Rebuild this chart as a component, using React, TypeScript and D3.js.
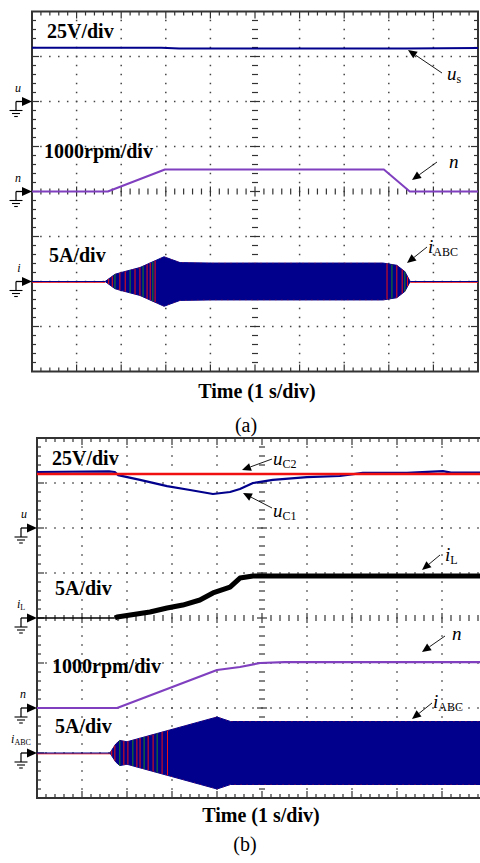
import React, { useRef, useEffect } from "react";
import * as d3 from "d3";

// panel (a): time in s, values in channel units
const aUsTime = [0, 2.9, 3.3, 8.4, 10];
const aUsVolt = [29.8, 29.8, 29.4, 29.4, 29.7];
const aSpeedTime = [0, 1.7, 2.98, 7.89, 8.47, 10];
const aSpeedRpm = [0, 0, 490, 490, 0, 0];
const aCurTime = [1.64, 1.86, 2.0, 2.42, 2.96, 3.32, 4.0, 7.87, 8.18, 8.36, 8.48];
const aCurAmp = [0, 0.8, 1.0, 1.55, 2.75, 2.1, 2.05, 2.05, 1.8, 1.1, 0];
const aCurStripes = [1.72, 1.8, 1.86, 1.97, 2.09, 2.2, 2.31, 2.42, 2.49, 2.58, 2.65, 2.71, 2.76, 7.96, 8.07, 8.18, 8.3, 8.36, 8.42];

// panel (b)
const bUc2Time = [0, 10];
const bUc2Volt = [30, 30];
const bUc1Time = [0, 1.6, 1.73, 1.8, 2.29, 2.89, 3.4, 3.91, 4.29, 4.51, 4.8, 5.24, 6.0, 6.73, 7.24, 8.22, 9.02, 9.2, 10];
const bUc1Volt = [31.1, 31.5, 31.1, 29.4, 26.7, 23.3, 21.1, 18.9, 20, 21.7, 25, 26.7, 28.3, 28.9, 30.6, 30.6, 31.6, 30.8, 30.8];
const bIlTime = [0, 1.73, 1.78, 2.51, 2.89, 3.24, 3.62, 3.91, 4.29, 4.51, 4.8, 10];
const bIlAmp = [0, 0, 0.11, 0.67, 1.11, 1.44, 2.0, 2.78, 3.44, 4.44, 4.67, 4.67];
const bIlNoisyFrom = 1.73;
const bSpeedTime = [0, 1.78, 4.0, 4.51, 4.96, 5.5, 10];
const bSpeedRpm = [0, 0, 844, 911, 1000, 1020, 1020];
const bCurTime = [1.62, 1.75, 1.84, 2.0, 4.0, 4.3, 10];
const bCurAmp = [0, 1.0, 1.4, 1.25, 4.0, 3.5, 3.5];
const bCurStripes = [1.66, 1.73, 1.84, 1.93, 2.02, 2.13, 2.22, 2.29, 2.38, 2.47, 2.58, 2.67, 2.78, 2.9];

const serif = "Liberation Serif, Times New Roman, serif";
const BLUE = "#00008c";
const PURPLE = "#7f3fbf";
const RED = "#f01010";

function App() {
  const svgRef = useRef(null);

  useEffect(() => {
    document.body.style.margin = "0";
    const svg = d3.select(svgRef.current);
    svg.selectAll("*").remove();

    function grid(p) {
      const g = svg.append("g");
      const right = p.left + 10 * p.dx;
      const bottom = p.top + 8 * p.dy;
      // dotted grid
      for (let i = 1; i < 10; i++) {
        if (i === 5) continue;
        for (let k = 1; k < 40; k++) {
          g.append("rect").attr("x", p.left + i * p.dx - 0.75).attr("y", p.top + (k * p.dy) / 5 - 0.75)
            .attr("width", 1.5).attr("height", 1.5).attr("fill", "#444");
        }
      }
      for (let j = 1; j < 8; j++) {
        if (j === 4) continue;
        for (let k = 1; k < 50; k++) {
          g.append("rect").attr("x", p.left + (k * p.dx) / 5 - 0.75).attr("y", p.top + j * p.dy - 0.75)
            .attr("width", 1.5).attr("height", 1.5).attr("fill", "#444");
        }
      }
      const tick = (x1, y1, x2, y2, w = 1.2) =>
        g.append("line").attr("x1", x1).attr("y1", y1).attr("x2", x2).attr("y2", y2)
          .attr("stroke", "#333").attr("stroke-width", w);
      // center axes ticks
      const cy = p.top + 4 * p.dy;
      const cx = p.left + 5 * p.dx;
      for (let k = 1; k < 50; k++) {
        const len = k % 5 === 0 ? 5 : 3;
        const xx = p.left + (k * p.dx) / 5;
        tick(xx, cy - len, xx, cy + len);
      }
      for (let k = 1; k < 40; k++) {
        const len = k % 5 === 0 ? 5 : 3;
        const yy = p.top + (k * p.dy) / 5;
        tick(cx - len, yy, cx + len, yy);
      }
      // border ticks
      for (let k = 1; k < 50; k++) {
        const len = k % 5 === 0 ? 7 : 4;
        const xx = p.left + (k * p.dx) / 5;
        tick(xx, p.top, xx, p.top + len);
        tick(xx, bottom, xx, bottom - len);
      }
      for (let k = 1; k < 40; k++) {
        const len = k % 5 === 0 ? 7 : 4;
        const yy = p.top + (k * p.dy) / 5;
        tick(p.left, yy, p.left + len, yy);
        tick(right, yy, right - len, yy);
      }
      g.append("rect").attr("x", p.left).attr("y", p.top).attr("width", 10 * p.dx).attr("height", 8 * p.dy)
        .attr("fill", "none").attr("stroke", "#333").attr("stroke-width", 2);
      return d3.scaleLinear().domain([0, 10]).range([p.left, right]);
    }

    function marker(xTip, y, label, sub, lx) {
      const g = svg.append("g").attr("stroke", "#000").attr("fill", "#000");
      const xv = xTip - 16;
      g.append("line").attr("x1", xv).attr("y1", y).attr("x2", xTip - 8).attr("y2", y).attr("stroke-width", 1.3);
      g.append("path").attr("d", `M${xTip - 10},${y - 4.5}L${xTip},${y}L${xTip - 10},${y + 4.5}Z`).attr("stroke", "none");
      g.append("line").attr("x1", xv).attr("y1", y).attr("x2", xv).attr("y2", y + 9).attr("stroke-width", 1.2);
      [[9, 6.5], [12, 4], [15, 1.8]].forEach(([dy, hw]) =>
        g.append("line").attr("x1", xv - hw).attr("x2", xv + hw).attr("y1", y + dy).attr("y2", y + dy).attr("stroke-width", 1.1));
      const t = svg.append("text").attr("x", lx).attr("y", y - 10).attr("text-anchor", "middle")
        .attr("font-family", serif).attr("font-size", 12).attr("font-style", "italic").text(label);
      if (sub) t.append("tspan").attr("font-style", "normal").attr("font-size", 8).attr("dy", 2).text(sub);
    }

    function scaleLabel(x, y, txt) {
      svg.append("text").attr("x", x).attr("y", y).attr("font-family", serif).attr("font-size", 20)
        .attr("font-weight", "bold").text(txt);
    }

    function annotate(label, sub, lx, ly, x1, y1, x2, y2) {
      const ang = Math.atan2(y2 - y1, x2 - x1);
      const L = 9, Wd = 4;
      const bx = x2 - L * Math.cos(ang), by = y2 - L * Math.sin(ang);
      svg.append("line").attr("x1", x1).attr("y1", y1).attr("x2", bx).attr("y2", by)
        .attr("stroke", "#000").attr("stroke-width", 0.9);
      svg.append("path")
        .attr("d", `M${x2},${y2}L${bx + Wd * Math.sin(ang)},${by - Wd * Math.cos(ang)}L${bx - Wd * Math.sin(ang)},${by + Wd * Math.cos(ang)}Z`)
        .attr("fill", "#000");
      const t = svg.append("text").attr("x", lx).attr("y", ly).attr("font-family", serif).attr("font-size", 19)
        .attr("font-style", "italic").text(label);
      if (sub) t.append("tspan").attr("font-style", "normal").attr("font-size", 12).attr("dy", 3).text(sub);
    }

    function trace(x, y, T, V, color, width) {
      const line = d3.line().x((_, i) => x(T[i])).y((d) => y(d));
      svg.append("path").datum(V).attr("d", line).attr("fill", "none").attr("stroke", color)
        .attr("stroke-width", width).attr("stroke-linejoin", "round");
    }

    function current(x, y, T, A, stripes) {
      const env = d3.scaleLinear().domain(T).range(A).clamp(true);
      const flat = (x1, x2) => {
        svg.append("line").attr("x1", x1).attr("x2", x2).attr("y1", y(0) + 0.8).attr("y2", y(0) + 0.8)
          .attr("stroke", RED).attr("stroke-width", 1);
        svg.append("line").attr("x1", x1).attr("x2", x2).attr("y1", y(0)).attr("y2", y(0))
          .attr("stroke", BLUE).attr("stroke-width", 1.2);
      };
      flat(x(0), x(T[0]));
      if (T[T.length - 1] < 10) flat(x(T[T.length - 1]), x(10));
      const area = d3.area().x((_, i) => x(T[i])).y0((d) => y(-d)).y1((d) => y(d));
      svg.append("path").datum(A).attr("d", area).attr("fill", BLUE)
        .attr("stroke", BLUE).attr("stroke-width", 1);
      svg.append("path").datum(A).attr("d", area).attr("fill", "none")
        .attr("stroke", RED).attr("stroke-width", 0.6).attr("stroke-dasharray", "1,5").attr("opacity", 0.8);
      stripes.forEach((t, i) => {
        const a = env(t);
        svg.append("line").attr("x1", x(t)).attr("x2", x(t)).attr("y1", y(-a)).attr("y2", y(a))
          .attr("stroke", i % 3 === 2 ? "#1a8a1a" : RED).attr("stroke-width", 1);
      });
    }

    // ---------- panel (a) ----------
    const pa = { left: 32, top: 11.5, dx: 44.6, dy: 45 };
    const xa = grid(pa);
    const gU = pa.top + 2 * pa.dy, gN = pa.top + 4 * pa.dy, gI = pa.top + 6 * pa.dy;
    const yaU = d3.scaleLinear().domain([0, 25]).range([gU, gU - pa.dy]);
    const yaN = d3.scaleLinear().domain([0, 1000]).range([gN, gN - pa.dy]);
    const yaI = d3.scaleLinear().domain([0, 5]).range([gI, gI - pa.dy]);
    trace(xa, yaU, aUsTime, aUsVolt, BLUE, 2);
    trace(xa, yaN, aSpeedTime, aSpeedRpm, PURPLE, 2);
    current(xa, yaI, aCurTime, aCurAmp, aCurStripes);
    scaleLabel(47, 38, "25V/div");
    scaleLabel(44, 158, "1000rpm/div");
    scaleLabel(49, 262, "5A/div");
    marker(32, gU, "u", null, 18);
    marker(32, gN, "n", null, 18);
    marker(32, gI, "i", null, 19);
    annotate("u", "s", 447, 80, 442, 73, 408, 50);
    annotate("n", null, 449, 168, 437, 162, 412, 180);
    annotate("i", "ABC", 428, 253, 427, 247, 407, 263);
    svg.append("text").attr("x", 257).attr("y", 398).attr("text-anchor", "middle").attr("font-family", serif)
      .attr("font-size", 20).attr("font-weight", "bold").text("Time (1 s/div)");
    svg.append("text").attr("x", 246).attr("y", 432).attr("text-anchor", "middle").attr("font-family", serif)
      .attr("font-size", 20).text("(a)");

    // ---------- panel (b) ----------
    const pb = { left: 37, top: 438, dx: 45, dy: 45 };
    const xb = grid(pb);
    const hU = pb.top + 2 * pb.dy, hL = pb.top + 4 * pb.dy, hN = pb.top + 6 * pb.dy, hI = pb.top + 7 * pb.dy;
    const ybU = d3.scaleLinear().domain([0, 25]).range([hU, hU - pb.dy]);
    const ybL = d3.scaleLinear().domain([0, 5]).range([hL, hL - pb.dy]);
    const ybN = d3.scaleLinear().domain([0, 1000]).range([hN, hN - pb.dy]);
    const ybI = d3.scaleLinear().domain([0, 5]).range([hI, hI - pb.dy]);
    trace(xb, ybU, bUc1Time, bUc1Volt, BLUE, 2.2);
    trace(xb, ybU, bUc2Time, bUc2Volt, RED, 2.4);
    const split = bIlTime.findIndex((t) => t >= bIlNoisyFrom);
    trace(xb, ybL, bIlTime.slice(0, split + 1), bIlAmp.slice(0, split + 1), "#000", 1.5);
    trace(xb, ybL, bIlTime.slice(split), bIlAmp.slice(split), "#000", 5);
    trace(xb, ybN, bSpeedTime, bSpeedRpm, PURPLE, 2.2);
    current(xb, ybI, bCurTime, bCurAmp, bCurStripes);
    scaleLabel(52, 465, "25V/div");
    scaleLabel(55, 595, "5A/div");
    scaleLabel(52, 673, "1000rpm/div");
    scaleLabel(55, 733, "5A/div");
    marker(37, hU, "u", null, 24);
    marker(37, hL, "i", "L", 21);
    marker(37, hN, "n", null, 23);
    marker(37, hI, "i", "ABC", 21);
    annotate("u", "C2", 273, 465, 272, 459, 242, 470);
    annotate("u", "C1", 273, 517, 272, 508, 243, 493);
    annotate("i", "L", 445, 561, 440, 555, 422, 570);
    annotate("n", null, 452, 640, 445, 636, 422, 652);
    annotate("i", "ABC", 433, 708, 432, 703, 412, 719);
    svg.append("text").attr("x", 261).attr("y", 822).attr("text-anchor", "middle").attr("font-family", serif)
      .attr("font-size", 20).attr("font-weight", "bold").text("Time (1 s/div)");
    svg.append("text").attr("x", 245).attr("y", 851).attr("text-anchor", "middle").attr("font-family", serif)
      .attr("font-size", 20).text("(b)");
  }, []);

  return <svg ref={svgRef} width={480} height={863} style={{ display: "block", background: "#fff" }}></svg>;
}

export default App;
